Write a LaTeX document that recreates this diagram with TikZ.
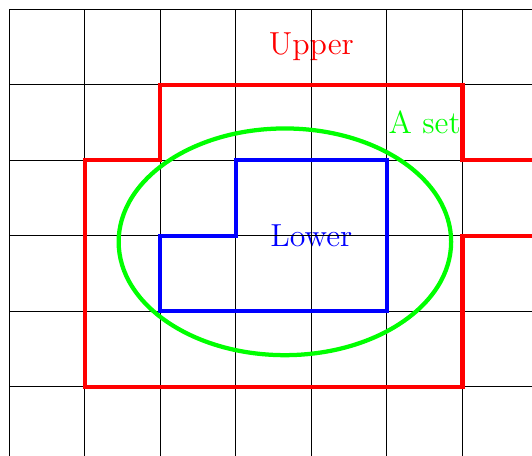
\documentclass[tikz,border=0pt]{standalone}
\usepackage{tikz}

\begin{document}
\begin{tikzpicture}[every node/.style={font=\large}]
	% Window
	\clip (-0.12,0.09) rectangle (6.92,6.12);
	% Labels
	\node (upper) [text=red] at (4,5.5) {Upper};
	\node (lower) [text=blue] at (4,3) {Lower};
	\node (aset) [text=green] at (5.5,4.5) {A set};
	% Grid
	\draw[thin] (0,0) grid (7,6);
	% Sets
	\draw[red, ultra thick] (7,3) -- (6,3) -- (6,1) -- (1,1) -- (1,4) -- (2,4) -- (2,5) -- (6,5) -- (6,4) -- (7,4);
	\draw[blue, ultra thick] (2,3) -- (3,3) -- (3,4) -- (5,4) -- (5,2) -- (2,2) -- cycle;
	\draw[green, ultra thick] (3.65,2.92) ellipse (2.2 and 1.5);
\end{tikzpicture}
\end{document}
